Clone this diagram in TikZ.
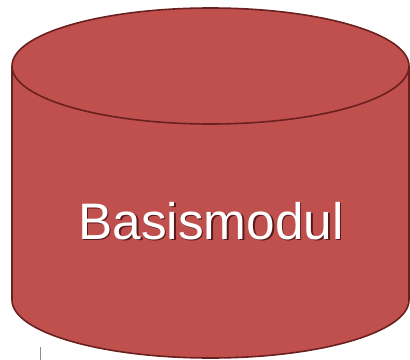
\documentclass[tikz,border=0pt]{standalone}
\usepackage{fontspec}
\setmainfont{Liberation Sans}
\definecolor{cylfill}{RGB}{192,80,77}
\definecolor{cyledge}{RGB}{105,32,30}
\definecolor{txtshade}{RGB}{90,25,25}
\tikzset{every picture/.style={line width=0.75pt}}
\begin{document}
\begin{tikzpicture}[x=0.75pt,y=0.75pt,yscale=-1,xscale=1]
\useasboundingbox (0,0) rectangle (410,360);

%Shape: Can [id:cylBasis] 
\draw [draw=cyledge, fill=cylfill, line width=1.2pt]  (12,66) -- (12,300) arc (180:0:198.5 and 58) -- (409,66) arc (360:180:198.5 and 58) -- cycle ;
\draw [draw=cyledge, line width=1.2pt]  (12,66) arc (180:0:198.5 and 58) ;
%Straight Lines [id:markL] 
\draw [color={rgb,255:red,140;green,140;blue,140}]  (40,347) -- (40,360) ;

% Text Node
\draw (212.5,222.5) node [inner sep=0.75pt, text=txtshade] (shade) {\fontsize{38.5}{38.5}\selectfont Basismodul};
% Text Node
\draw (211,221) node [inner sep=0.75pt, text=white] (label) {\fontsize{38.5}{38.5}\selectfont Basismodul};

\end{tikzpicture}
\end{document}
